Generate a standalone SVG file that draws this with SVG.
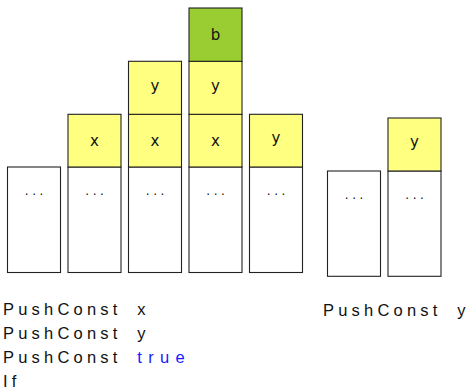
<svg xmlns="http://www.w3.org/2000/svg" width="470" height="391" viewBox="0 0 470 391">
<style>
.box{stroke:#222;stroke-width:1.1}
.w{fill:#fff}
.y{fill:#ffff80}
.g{fill:#9acd32}
.lbl{font-family:"DejaVu Sans",sans-serif;font-size:15px;fill:#111;text-anchor:middle}
.dots{font-family:"DejaVu Sans",sans-serif;font-size:12px;fill:#111;text-anchor:middle;letter-spacing:3.5px}
.code{font-family:"Liberation Sans",sans-serif;font-size:16.5px;fill:#111;letter-spacing:4.2px;word-spacing:7px}
.kw{fill:#1a1aff;letter-spacing:6.3px}
</style>
<rect width="470" height="391" fill="#fff"/>
<g id="stack1">
<rect class="box w" x="7.5" y="167" width="53" height="105.5"/>
<text class="dots" x="35.8" y="195">...</text>
</g>
<g id="stack2">
<rect class="box w" x="68" y="167" width="53" height="105.5"/>
<text class="dots" x="96.3" y="195">...</text>
<rect class="box y" x="68" y="114.3" width="53" height="52.7"/>
<text class="lbl" x="94.5" y="145.5">x</text>
</g>
<g id="stack3">
<rect class="box w" x="128.5" y="167" width="53" height="105.5"/>
<text class="dots" x="156.8" y="195">...</text>
<rect class="box y" x="128.5" y="114.3" width="53" height="52.7"/>
<text class="lbl" x="155" y="145.5">x</text>
<rect class="box y" x="128.5" y="61.3" width="53" height="53"/>
<text class="lbl" x="155" y="91">y</text>
</g>
<g id="stack4">
<rect class="box w" x="189" y="167" width="53" height="105.5"/>
<text class="dots" x="217.3" y="195">...</text>
<rect class="box y" x="189" y="114.3" width="53" height="52.7"/>
<text class="lbl" x="215.5" y="145.5">x</text>
<rect class="box y" x="189" y="61.3" width="53" height="53"/>
<text class="lbl" x="215.5" y="91">y</text>
<rect class="box g" x="189" y="8" width="53" height="53.3"/>
<text class="lbl" x="215.5" y="40">b</text>
</g>
<g id="stack5">
<rect class="box w" x="249.5" y="167" width="53" height="105.5"/>
<text class="dots" x="277.8" y="195">...</text>
<rect class="box y" x="249.5" y="114.3" width="53" height="52.7"/>
<text class="lbl" x="276" y="143">y</text>
</g>
<g id="stack6">
<rect class="box w" x="327.5" y="171" width="53" height="105.3"/>
<text class="dots" x="355.8" y="199">...</text>
</g>
<g id="stack7">
<rect class="box w" x="388" y="171" width="53" height="105.3"/>
<text class="dots" x="416.3" y="199">...</text>
<rect class="box y" x="388" y="118" width="53" height="53"/>
<text class="lbl" x="414.5" y="147">y</text>
</g>
<g id="code-left">
<text class="code" x="3" y="315">PushConst x</text>
<text class="code" x="3" y="339">PushConst y</text>
<text class="code" x="3" y="363">PushConst <tspan class="kw">true</tspan></text>
<text class="code" x="3" y="387">If</text>
</g>
<g id="code-right">
<text class="code" x="323" y="316">PushConst y</text>
</g>
</svg>
